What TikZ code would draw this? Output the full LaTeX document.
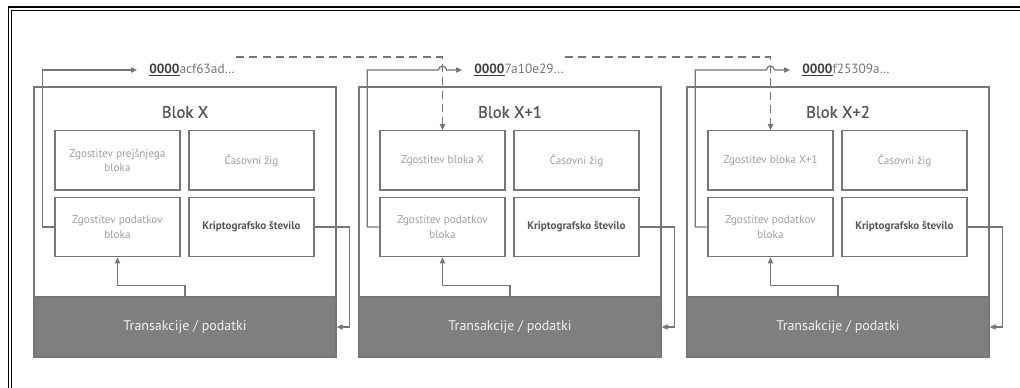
\documentclass[tikz,border=0pt]{standalone}
\usepackage{fontspec}
\setmainfont{PT Sans}
\newfontfamily\titlefont[FakeBold=0.8]{PT Sans}
\usetikzlibrary{arrows.meta,calc}
\definecolor{ln}{HTML}{767676}
\definecolor{bandc}{HTML}{7F7F7F}
\definecolor{lt}{HTML}{A0A0A0}
\definecolor{dk}{HTML}{595959}
\definecolor{tk}{HTML}{555555}
\definecolor{hk}{HTML}{3F3F3F}
\tikzset{
  blockbox/.style={draw=ln, line width=1pt, minimum width=226.5pt, minimum height=202.5pt, inner sep=0pt},
  bandbox/.style={draw=ln, fill=bandc, line width=1pt, minimum width=226.5pt, minimum height=45pt, inner sep=0pt, text=white!94!black, font=\fontsize{10.5}{12}\selectfont},
  cell/.style={draw=ln, fill=white, line width=1pt, minimum width=93.75pt, minimum height=44.5pt, inner sep=0pt, align=center, font=\fontsize{8.4}{11}\selectfont, text=lt},
  boldcell/.style={cell, text=dk, font=\fontsize{8.3}{10.5}\selectfont\bfseries},
  titlelbl/.style={font=\titlefont\fontsize{12.5}{14}\selectfont, text=tk, inner sep=0pt},
  hashlbl/.style={anchor=west, inner sep=0pt, font=\fontsize{10}{12}\selectfont, text=ln},
  conn/.style={draw=ln, line width=0.9pt},
  tip/.style={-{Triangle[length=4.5pt,width=4pt]}},
  dashconn/.style={conn, dash pattern=on 6pt off 4pt}
}
\begin{document}
\begin{tikzpicture}[x=0.75pt,y=-0.75pt]
\useasboundingbox (0,0) rectangle (1020,388);
% frame (top and left only visible)
\draw[black, line width=0.8pt] (1020,7) -- (8.5,7) -- (8.5,388);
\draw[black, line width=0.8pt] (1020,10.5) -- (11.5,10.5) -- (11.5,388);

\foreach \i/\L/\t/\a/\h in {0/34/{Blok X}/{Zgostitev prejšnjega\\bloka}/{acf63ad\dots},
                            1/359/{Blok X+1}/{Zgostitev bloka X}/{7a10e29\dots},
                            2/687/{Blok X+2}/{Zgostitev bloka X+1}/{f25309a\dots}}{
  \node[blockbox] (b\i) at (\L+151,222) {};
  \node[bandbox] (t\i) at (\L+151,327) {Transakcije / podatki};
  \node[titlelbl] (n\i) at (\L+151,112) {\t};
  \node[cell] (a\i) at (\L+83.5,160.5) {\a};
  \node[cell] (s\i) at (\L+217.5,160.5) {Časovni žig};
  \node[cell] (c\i) at (\L+83.5,227) {Zgostitev podatkov\\bloka};
  \node[boldcell] (d\i) at (\L+217.5,227) {Kriptografsko število};
  \node[hashlbl] (h\i) at (\L+115,70) {\textcolor{hk}{\underline{\textbf{0000}}}\h};
  % nonce -> transactions
  \draw[conn,tip] (d\i.east) -- ++(35,0) |- (t\i.east);
  % transactions -> data hash
  \draw[conn,tip] (t\i.north) -- ++(0,-11) -| (c\i.south);
}

% block hash lines
\draw[conn,tip,shorten >=9pt] (c0.west) -- ++(-12,0) |- (h0.west);
\foreach \i in {1,2}{
  \draw[conn,tip,shorten >=9pt] (c\i.west) -- ++(-12,0) |- ($(a\i.north |- h\i.west)+(-4,0)$)
     arc[start angle=180,end angle=0,radius=3pt] -- (h\i.west);
}

% dashed links from hash to next block
\draw[dashconn,tip] ($(h0.east)+(1,-13)$) -| (a1.north);
\draw[dashconn,tip] ($(h1.east)+(1,-13)$) -| (a2.north);
\end{tikzpicture}
\end{document}
